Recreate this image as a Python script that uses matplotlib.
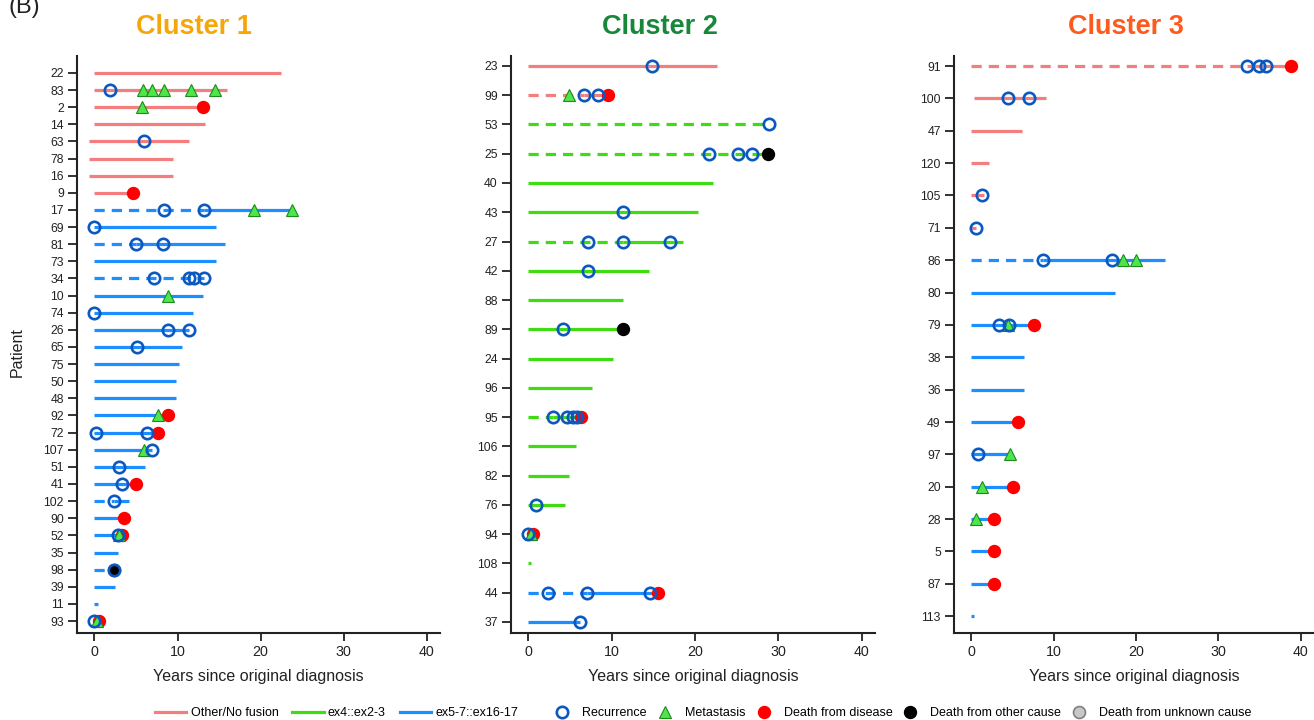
import matplotlib
matplotlib.use("Agg")
import matplotlib.pyplot as plt
from matplotlib.lines import Line2D

plt.rcParams['font.family'] = ['Liberation Sans', 'DejaVu Sans']

# ---------------- Cluster 1 ----------------
c1_patients = ["22", "83", "2", "14", "63", "78", "16", "9", "17", "69", "81", "73", "34",
               "10", "74", "26", "65", "75", "50", "48", "92", "72", "107", "51", "41",
               "102", "90", "52", "35", "98", "39", "11", "93"]
c1_fusion = ["other"] * 8 + ["ex5"] * 25
c1_start = [0, 0, 0, 0, -0.6, -0.6, -0.6, 0] + [0] * 25
c1_end = [22.4, 16.0, 13.1, 13.3, 11.4, 9.4, 9.4, 4.7, 23.8, 14.6, 15.7, 14.6, 13.2,
          13.1, 11.9, 11.4, 10.6, 10.2, 9.8, 9.8, 8.8, 7.6, 6.9, 6.1, 5.0,
          4.2, 3.5, 3.3, 2.8, 2.3, 2.5, 0.4, 0.5]
c1_dashed_until = [None, None, None, None, None, None, None, None, 13.2, None, 5.0, None, 13.2,
                   None, None, None, None, None, None, None, None, None, None, None, None,
                   2.3, None, None, None, 2.3, None, None, None]
c1_recurrence = [[], [1.9], [], [], [6.0], [], [], [], [8.4, 13.2], [0.0], [5.0, 8.3], [],
                 [7.2, 11.4, 12.0, 13.2], [], [0.0], [8.8, 11.4], [5.1], [], [], [], [],
                 [0.2, 6.3], [6.9], [2.9], [3.3], [2.3], [], [2.8], [], [2.3], [], [], [0.0]]
c1_metastasis = [[], [5.9, 6.9, 8.4, 11.6, 14.5], [5.7], [], [], [], [], [], [19.2, 23.8],
                 [], [], [], [], [8.8], [], [], [], [], [], [], [7.6], [], [6.0], [], [],
                 [], [], [3.0], [], [], [], [], [0.3]]
c1_death_disease = [None, None, 13.1, None, None, None, None, 4.7, None, None, None, None,
                    None, None, None, None, None, None, None, None, 8.8, 7.6, None, None,
                    5.0, None, 3.5, 3.3, None, None, None, None, 0.5]
c1_death_other = [None] * 29 + [2.3, None, None, None]

# ---------------- Cluster 2 ----------------
c2_patients = ["23", "99", "53", "25", "40", "43", "27", "42", "88", "89", "24", "96",
               "95", "106", "82", "76", "94", "108", "44", "37"]
c2_fusion = ["other", "other"] + ["ex4"] * 16 + ["ex5", "ex5"]
c2_start = [0] * 20
c2_end = [22.6, 9.5, 28.9, 28.7, 22.2, 20.3, 18.5, 14.5, 11.4, 11.3, 10.1, 7.6,
          6.3, 5.7, 4.9, 4.4, 0.6, 0.3, 15.5, 6.2]
c2_dashed_until = [None, 6.7, 28.9, 26.8, None, None, 11.3, None, None, None, None, None,
                   3.0, None, None, None, None, None, 7.0, None]
c2_recurrence = [[14.8], [6.7, 8.3], [28.9], [21.7, 25.2, 26.8], [], [11.3],
                 [7.2, 11.3, 17.0], [7.2], [], [4.2], [], [], [3.0, 4.6, 5.3, 5.8],
                 [], [], [0.9], [0.0], [], [2.3, 7.0, 14.6], [6.2]]
c2_metastasis = [[], [4.9]] + [[]] * 14 + [[0.3], [], [], []]
c2_death_disease = [None, 9.5] + [None] * 10 + [6.3, None, None, None, 0.6, None, 15.5, None]
c2_death_other = [None, None, None, 28.7, None, None, None, None, None, 11.3] + [None] * 10

# ---------------- Cluster 3 ----------------
c3_patients = ["91", "100", "47", "120", "105", "71", "86", "80", "79", "38", "36", "49",
               "97", "20", "28", "5", "87", "113"]
c3_fusion = ["other"] * 6 + ["ex5"] * 12
c3_start = [0, 0.3] + [0] * 16
c3_end = [38.8, 9.1, 6.1, 2.2, 1.6, 0.6, 23.5, 17.5, 7.6, 6.4, 6.4, 5.7,
          4.7, 5.1, 2.7, 2.7, 2.7, 0.3]
c3_dashed_until = [33.5, None, None, None, None, None, 8.7] + [None] * 11
c3_recurrence = [[33.5, 34.9, 35.8], [4.4, 7.0], [], [], [1.3], [0.6], [8.7, 17.1], [],
                 [3.4, 4.6], [], [], [], [0.8], [], [], [], [], []]
c3_metastasis = [[], [], [], [], [], [], [18.4, 20.0], [], [4.4], [], [], [], [4.7],
                 [1.3], [0.6], [], [], []]
c3_death_disease = [38.8, None, None, None, None, None, None, None, 7.6, None, None, 5.7,
                    None, 5.1, 2.7, 2.7, 2.7, None]
c3_death_other = [None] * 18

FUSION_COLORS = {"other": "#F47E7E", "ex4": "#3EDC10", "ex5": "#1C8EFF"}
REC_EDGE = "#0B58C0"
MET_FACE = "#4FE64A"
MET_EDGE = "#1C8A1C"
LW = 2.3
DASH = (0, (3.2, 2.2))


def draw_cluster(ax, patients, fusion, start, end, dashed_until, recurrence,
                 metastasis, death_disease, death_other, ylim):
    n = len(patients)
    ys = list(range(n - 1, -1, -1))
    for i, y in enumerate(ys):
        c = FUSION_COLORS[fusion[i]]
        d = dashed_until[i]
        if d is not None:
            ax.plot([start[i], d], [y, y], color=c, lw=LW, ls=DASH,
                    dash_capstyle='butt', zorder=2)
            if end[i] > d:
                ax.plot([d, end[i]], [y, y], color=c, lw=LW,
                        solid_capstyle='butt', zorder=2)
        else:
            ax.plot([start[i], end[i]], [y, y], color=c, lw=LW,
                    solid_capstyle='butt', zorder=2)
        if death_disease[i] is not None:
            ax.plot([death_disease[i]], [y], ls='none', marker='o', ms=8.6,
                    mfc='#FF0000', mec='#FF0000', zorder=3)
        if death_other[i] is not None:
            ax.plot([death_other[i]], [y], ls='none', marker='o', ms=8.6,
                    mfc='black', mec='black', zorder=3)
        if metastasis[i]:
            ax.plot(metastasis[i], [y] * len(metastasis[i]), ls='none', marker='^',
                    ms=8.6, mfc=MET_FACE, mec=MET_EDGE, mew=0.8, zorder=4)
        if recurrence[i]:
            ax.plot(recurrence[i], [y] * len(recurrence[i]), ls='none', marker='o',
                    ms=8.2, mfc='none', mec=REC_EDGE, mew=1.9, zorder=5)

    ax.set_yticks(ys)
    ax.set_yticklabels(patients)
    ax.set_ylim(*ylim)
    ax.set_xlim(-2.1, 41.6)
    ax.set_xticks([0, 10, 20, 30, 40])
    ax.spines['top'].set_visible(False)
    ax.spines['right'].set_visible(False)
    for s in ('left', 'bottom'):
        ax.spines[s].set_linewidth(1.5)
        ax.spines[s].set_color('#222222')
    ax.tick_params(axis='y', length=6.5, width=1.3, pad=3, labelsize=8.8,
                   color='#222222', labelcolor='#222222')
    ax.tick_params(axis='x', length=5.5, width=1.3, pad=3, labelsize=10.3,
                   color='#222222', labelcolor='#222222')
    ax.set_xlabel("Years since original diagnosis", fontsize=11.5, labelpad=7,
                  color='#222222')


fig = plt.figure(figsize=(13.14, 7.2), dpi=100)

W, H = 1314.0, 720.0
bottom = 1 - 633 / H
height = (633 - 56) / H
ax1 = fig.add_axes([77 / W, bottom, (440 - 77) / W, height])
ax2 = fig.add_axes([511 / W, bottom, (875 - 511) / W, height])
ax3 = fig.add_axes([954 / W, bottom, (1314 - 954) / W, height])

draw_cluster(ax1, c1_patients, c1_fusion, c1_start, c1_end, c1_dashed_until,
             c1_recurrence, c1_metastasis, c1_death_disease, c1_death_other,
             (-0.70, 32.99))
draw_cluster(ax2, c2_patients, c2_fusion, c2_start, c2_end, c2_dashed_until,
             c2_recurrence, c2_metastasis, c2_death_disease, c2_death_other,
             (-0.38, 19.34))
draw_cluster(ax3, c3_patients, c3_fusion, c3_start, c3_end, c3_dashed_until,
             c3_recurrence, c3_metastasis, c3_death_disease, c3_death_other,
             (-0.52, 17.31))

fig.text(17 / W, 1 - 352 / H, "Patient", rotation=90, ha='center', va='center',
         fontsize=11.5, color='#222222')
fig.text(8 / W, 1 - 13 / H, "(B)", ha='left', va='baseline', fontsize=17,
         color='#222222')

fig.text(194 / W, 1 - 27 / H, "Cluster 1", ha='center', va='center',
         fontsize=19.5, fontweight='bold', color='#F5A70A')
fig.text(660 / W, 1 - 27 / H, "Cluster 2", ha='center', va='center',
         fontsize=19.5, fontweight='bold', color='#17883A')
fig.text(1126 / W, 1 - 27 / H, "Cluster 3", ha='center', va='center',
         fontsize=19.5, fontweight='bold', color='#FF5A1E')

# Legends
line_handles = [Line2D([], [], color=FUSION_COLORS["other"], lw=LW),
                Line2D([], [], color=FUSION_COLORS["ex4"], lw=LW),
                Line2D([], [], color=FUSION_COLORS["ex5"], lw=LW)]
line_labels = ["Other/No fusion", "ex4::ex2-3", "ex5-7::ex16-17"]
fig.legend(line_handles, line_labels, loc='center left',
           bbox_to_anchor=(155 / W, 1 - 713 / H), ncol=3, frameon=False,
           fontsize=9, handlelength=2.5, handletextpad=0.35,
           columnspacing=1.1, borderpad=0, borderaxespad=0)

marker_handles = [
    Line2D([], [], ls='none', marker='o', ms=8.2, mfc='none', mec=REC_EDGE, mew=1.9),
    Line2D([], [], ls='none', marker='^', ms=8.6, mfc=MET_FACE, mec=MET_EDGE, mew=0.8),
    Line2D([], [], ls='none', marker='o', ms=8.6, mfc='#FF0000', mec='#FF0000'),
    Line2D([], [], ls='none', marker='o', ms=8.6, mfc='black', mec='black'),
    Line2D([], [], ls='none', marker='o', ms=8.6, mfc='#C8C8C8', mec='#808080', mew=1.2),
]
marker_labels = ["Recurrence", "Metastasis", "Death from disease",
                 "Death from other cause", "Death from unknown cause"]
fig.legend(marker_handles, marker_labels, loc='center left',
           bbox_to_anchor=(556 / W, 1 - 713 / H), ncol=5, frameon=False,
           fontsize=9, handlelength=1.0, handletextpad=1.1,
           columnspacing=0.95, borderpad=0, borderaxespad=0)

fig.savefig("out.png", dpi=100)
